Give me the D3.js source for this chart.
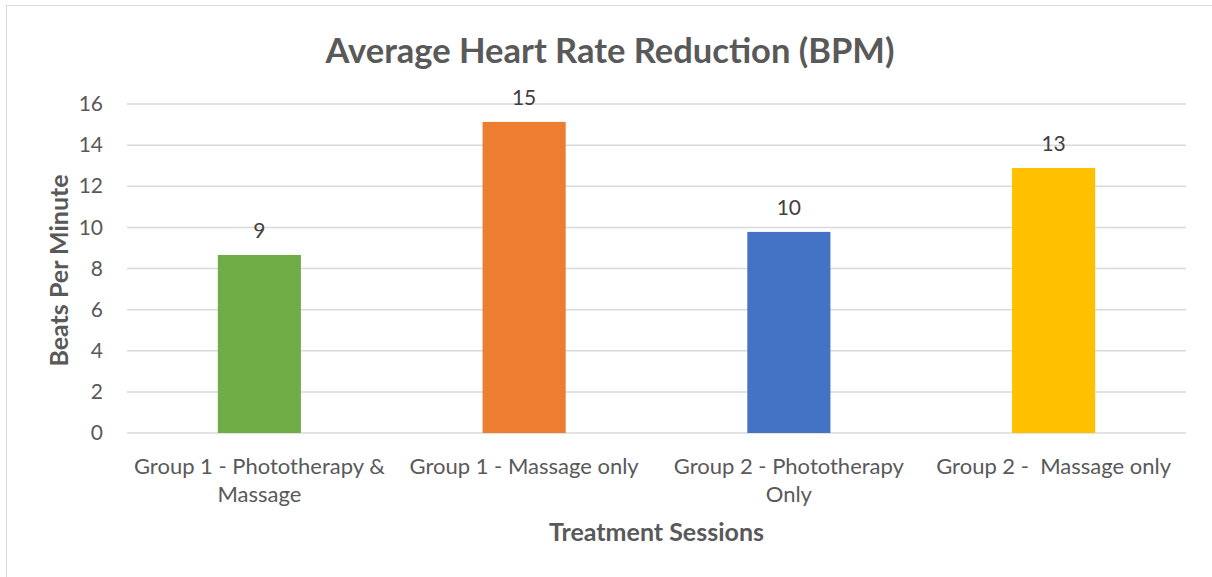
<!DOCTYPE html>
<html><head><meta charset="utf-8">
<script src="https://cdn.jsdelivr.net/npm/d3@7"></script>
<style>body{margin:0;background:#fff}svg{display:block}text{white-space:pre}</style>
</head><body>
<svg id="c" width="1212" height="577"></svg>
<script>
const categories = [["Group 1 - Phototherapy &","Massage"],["Group 1 - Massage only"],["Group 2 - Phototherapy","Only"],["Group 2 -  Massage only"]];
const values = [8.66, 15.13, 9.78, 12.89];
const labels = ["9","15","10","13"];
const colors = ["#70AD47","#ED7D31","#4472C4","#FFC000"];
const yTicks = [0,2,4,6,8,10,12,14,16];
const title = "Average Heart Rate Reduction (BPM)";
const xTitle = "Treatment Sessions";
const yTitle = "Beats Per Minute";

(function(){
const font = "Lato, 'Open Sans', sans-serif";
const txt = "#595959";
const svg = d3.select("#c");
svg.append("rect").attr("x",6.5).attr("y",5.5).attr("width",1220).attr("height",600)
  .attr("fill","none").attr("stroke","#d9d9d9");

const pL=127, pR=1186, pT=104, pB=433;
const x = d3.scaleBand().domain(d3.range(categories.length)).range([pL,pR]).paddingInner(0.686).paddingOuter(0.343);
const y = d3.scaleLinear().domain([0,16]).range([pB,pT]);

svg.append("g").selectAll("line").data(yTicks).join("line")
  .attr("x1",pL).attr("x2",pR).attr("y1",d=>y(d)).attr("y2",d=>y(d))
  .attr("stroke","#d9d9d9").attr("stroke-width",1.5);

const yAxis = d3.axisLeft(y).tickValues(yTicks).tickSize(0).tickPadding(14);
const ga = svg.append("g").attr("transform",`translate(${pL-10},0)`).call(yAxis);
ga.select(".domain").remove();
ga.selectAll("text").attr("font-family",font).attr("font-size",21).attr("fill",txt);

svg.append("g").selectAll("rect").data(values).join("rect")
  .attr("x",(d,i)=>x(i)).attr("width",x.bandwidth())
  .attr("y",d=>y(d)).attr("height",d=>pB-y(d)).attr("fill",(d,i)=>colors[i]);

svg.append("g").selectAll("text").data(values).join("text")
  .attr("x",(d,i)=>x(i)+x.bandwidth()/2).attr("y",d=>y(d)-17)
  .attr("text-anchor","middle").attr("font-family",font).attr("font-size",21).attr("fill","#404040")
  .text((d,i)=>labels[i]);

const cg = svg.append("g").selectAll("text").data(categories).join("text")
  .attr("text-anchor","middle").attr("font-family",font).attr("font-size",22).attr("fill",txt)
  .attr("x",(d,i)=>x(i)+x.bandwidth()/2).attr("y",474);
cg.selectAll("tspan").data(d=>d).join("tspan")
  .attr("x",function(){return this.parentNode.getAttribute("x");})
  .attr("dy",(d,j)=>j?28:0).text(d=>d);

svg.append("text").attr("x",(pL+pR)/2).attr("y",541).attr("text-anchor","middle")
  .attr("font-family",font).attr("font-weight","bold").attr("font-size",25).attr("fill",txt).text(xTitle);
svg.append("text").attr("transform",`translate(68,${(pT+pB)/2+2}) rotate(-90)`).attr("text-anchor","middle")
  .attr("font-family",font).attr("font-weight","bold").attr("font-size",25).attr("fill",txt).text(yTitle);
svg.append("text").attr("x",610).attr("y",63).attr("text-anchor","middle")
  .attr("font-family",font).attr("font-weight","bold").attr("font-size",34.5).attr("fill",txt).text(title);
})();
</script>
</body></html>
